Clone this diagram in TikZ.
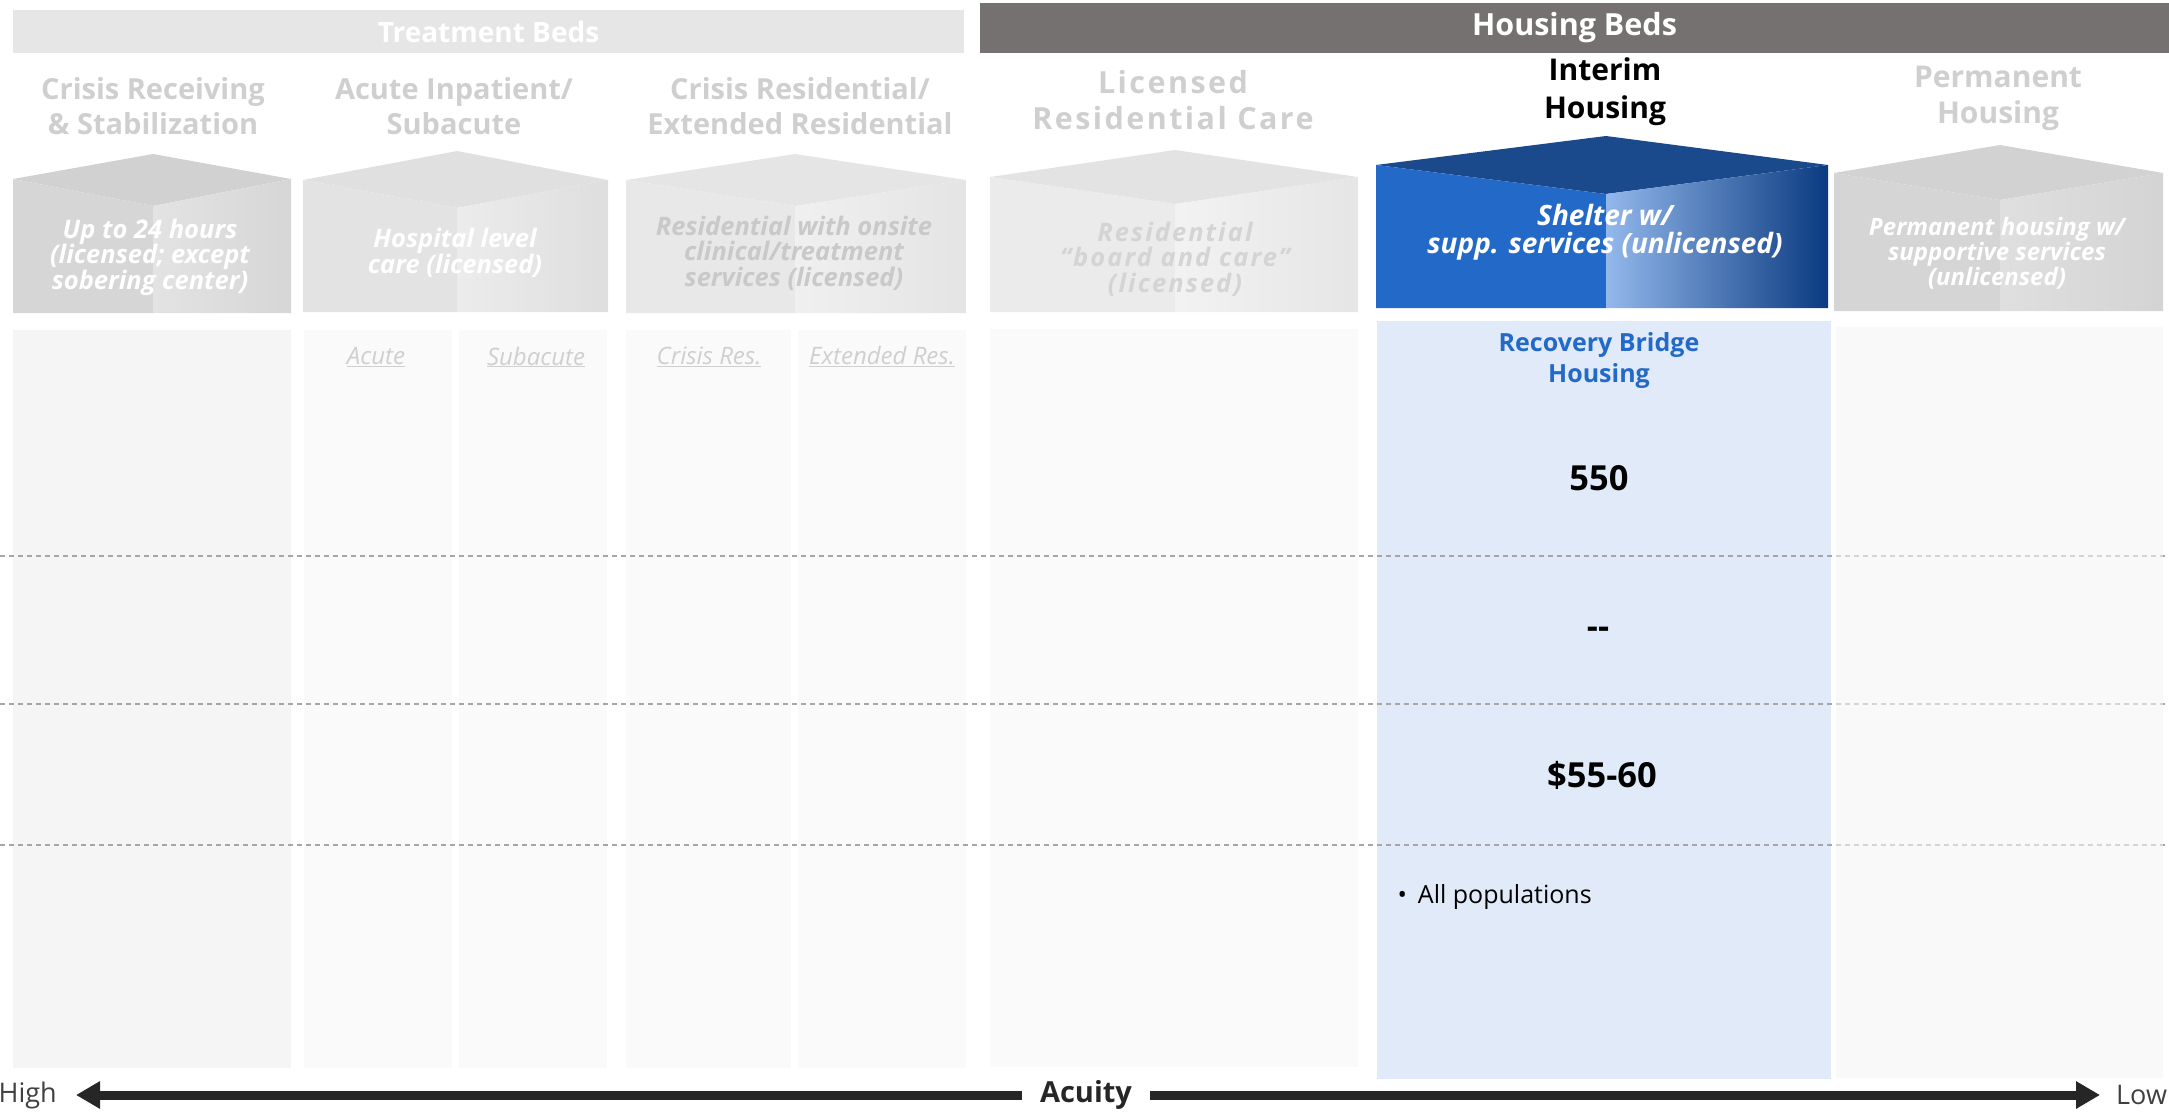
\documentclass[tikz,border=0pt]{standalone}
\usepackage{fontspec}
\setmainfont{Open Sans}
\newfontfamily\widesans{Open Sans}[LetterSpace=8]
\usetikzlibrary{arrows.meta}
\definecolor{fadetxt}{HTML}{CFCFCF}
\definecolor{barlight}{HTML}{E6E6E6}
\definecolor{bardark}{HTML}{757170}
\definecolor{bridgeblue}{HTML}{236AC8}
\definecolor{panelblue}{HTML}{E1EAF8}
\definecolor{divgray}{HTML}{A6A6A6}
\definecolor{arrowgray}{HTML}{262626}

\begin{document}
\begin{tikzpicture}[x=1pt, y=-1pt,
    bar/.style={inner sep=0pt, text=white, font=\fontsize{28}{34}\selectfont\bfseries},
    hdr/.style={align=center, text=fadetxt, font=\fontsize{29}{35}\selectfont\bfseries},
    boxtxt/.style={align=center, text=white, font=\fontsize{25.5}{25.5}\selectfont\bfseries\itshape},
    sublbl/.style={text=fadetxt, font=\fontsize{24}{28}\selectfont\itshape},
    cellval/.style={font=\fontsize{34.5}{40}\selectfont\bfseries},
    divider/.style={draw=divgray, line width=2pt, dash pattern=on 5pt off 4pt},
    acuityarrow/.style={draw=arrowgray, line width=9pt, -{Triangle[length=24pt,width=26pt]}}
  ]
  \useasboundingbox (0,0) rectangle (2169,1113);

  % Top bars
  \node[bar, fill=barlight, minimum width=951pt, minimum height=43pt] (treatbar) at (488.5,32) {Treatment Beds};
  \node[bar, fill=bardark, minimum width=1189pt, minimum height=50pt, font=\fontsize{30.5}{34}\selectfont\bfseries] (housebar) at (1574.5,28) {Housing Beds};

  % Column headers
  \node[hdr] (crisis) at (153,106) {Crisis Receiving\\\& Stabilization};
  \node[hdr] (acute) at (454,106) {Acute Inpatient/\\Subacute};
  \node[hdr] (cresid) at (800,106) {Crisis Residential/\\Extended Residential};
  \node[hdr, font=\fontsize{30.5}{36}\widesans\bfseries] (licensed) at (1173,100) {Licensed\\Residential Care};
  \node[hdr, text=black, font=\fontsize{30}{38}\selectfont\bfseries] (interim) at (1605,92) {Interim\\Housing};
  \node[hdr, font=\fontsize{30}{36}\selectfont\bfseries] (permanent) at (1998,98) {Permanent\\Housing};

  % Grey cubes
  \foreach \l/\m/\r/\a/\s/\c/\b/\tp/\lf/\ra/\rb in {
      13/153/291/154/179/206/313/18/16/11/16,
      303/457/608/151/180/208/312/12/11/7.5/13,
      626/795/966/154/180/206/313/10/9/6/10.5,
      990/1175/1358/150/177/204/312/11/8/5/10,
      1834/2000/2163/145/173/200/311/17.5/16.5/12.5/17} {
    \fill[black!\tp] (\l,\s) -- (\m,\a) -- (\r,\s) -- (\m,\c) -- cycle;
    \fill[black!\lf] (\l,\s) -- (\m,\c) -- (\m,\b) -- (\l,\b) -- cycle;
    \shade[left color=black!\ra, right color=black!\rb] (\m,\c) -- (\r,\s) -- (\r,\b) -- (\m,\b) -- cycle;
  }

  % Blue cube
  \fill[fill={rgb,255:red,27;green,74;blue,140}] (1376,165) -- (1606,136) -- (1828,165) -- (1606,194) -- cycle;
  \fill[bridgeblue] (1376,165) -- (1606,194) -- (1606,308) -- (1376,308) -- cycle;
  \shade[left color={rgb,255:red,147;green,184;blue,236}, middle color={rgb,255:red,20;green,82;blue,181},
    right color={rgb,255:red,10;green,58;blue,128}] (1606,194) -- (1828,165) -- (1828,308) -- (1606,308) -- cycle;

  % Cube texts
  \node[boxtxt] (up24) at (150,257) {Up to 24 hours\\(licensed; except\\sobering center)};
  \node[boxtxt] (hosp) at (455,253) {Hospital level\\care (licensed)};
  \node[boxtxt, text=black!21] (resonsite) at (794,253) {Residential with onsite\\clinical/treatment\\services (licensed)};
  \node[boxtxt, text=black!17, font=\fontsize{25.5}{25.5}\widesans\bfseries\itshape] (board) at (1175,259) {Residential\\“board and care”\\(licensed)};
  \node[boxtxt, font=\fontsize{28}{28}\selectfont\bfseries\itshape] (shelter) at (1605,232) {Shelter w/\\supp. services (unlicensed)};
  \node[boxtxt, font=\fontsize{24}{23}\selectfont\bfseries\itshape] (permsupp) at (1997,253) {Permanent housing w/\\supportive services\\(unlicensed)};

  % Lower panels
  \foreach \l/\r/\t/\b/\f in {13/291/330/1068/4, 304/452/330/1068/2, 459/607/330/1068/2,
      626/791/330/1068/2, 798/966/330/1068/2, 990/1358/329/1067/2}
    \fill[black!\f] (\l,\t) rectangle (\r,\b);
  \fill[panelblue] (1377,321) rectangle (1831,1079);

  % Row dividers
  \foreach \y in {556,704,845}
    \draw[divider] (0,\y) -- (2169,\y);
  \fill[black!4, fill opacity=0.6] (1836,327) rectangle (2163,1078);

  % Sub-column labels
  \node[sublbl] (lblacute) at (376,357) {\underline{Acute}};
  \node[sublbl] (lblsub) at (536,357) {\underline{Subacute}};
  \node[sublbl] (lblcres) at (709,357) {\underline{Crisis Res.}};
  \node[sublbl] (lblext) at (882,357) {\underline{Extended Res.}};

  % Recovery Bridge Housing column
  \node[align=center, text=bridgeblue, font=\fontsize{25}{31}\selectfont\bfseries] (rbh) at (1599,361) {Recovery Bridge\\Housing};
  \node[cellval] (beds) at (1599,478) {550};
  \node[cellval] (other) at (1598,633) {-{}-};
  \node[cellval] (rate) at (1602,775) {\$55-60};
  \node[anchor=west, font=\fontsize{25}{30}\selectfont] (pop) at (1394,897) {•\hspace{11pt}All populations};

  % Acuity axis
  \node[text=arrowgray, inner xsep=18pt, font=\fontsize{29}{32}\selectfont\bfseries] (acuity) at (1086,1095) {Acuity};
  \node[anchor=east, inner sep=0pt, text=black!75, font=\fontsize{27}{32}\selectfont] (high) at (57,1095) {High};
  \node[anchor=west, inner sep=0pt, text=black!75, font=\fontsize{27}{32}\selectfont] (low) at (2116,1095) {Low};
  \coordinate (hiend) at (76,1095);
  \coordinate (loend) at (2100,1095);
  \draw[acuityarrow] (acuity.west) -- (hiend);
  \draw[acuityarrow] (acuity.east) -- (loend);
\end{tikzpicture}
\end{document}
